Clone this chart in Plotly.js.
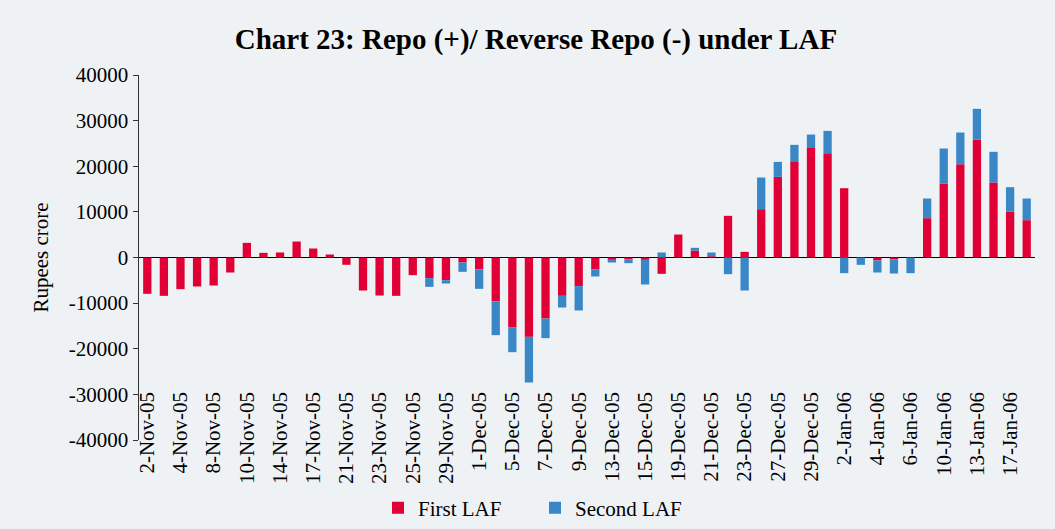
<!DOCTYPE html>
<html>
<head>
<meta charset="utf-8">
<script src="https://cdn.plot.ly/plotly-3.0.1.min.js"></script>
<style>html,body{margin:0;padding:0;background:#eef2f5;}#chart{width:1055px;height:529px;}</style>
</head>
<body>
<div id="chart"></div>
<script>
const dates = ["2-Nov-05","3-Nov-05","4-Nov-05","7-Nov-05","8-Nov-05","9-Nov-05","10-Nov-05","11-Nov-05","14-Nov-05","16-Nov-05",
"17-Nov-05","18-Nov-05","21-Nov-05","22-Nov-05","23-Nov-05","24-Nov-05","25-Nov-05","28-Nov-05","29-Nov-05","30-Nov-05",
"1-Dec-05","2-Dec-05","5-Dec-05","6-Dec-05","7-Dec-05","8-Dec-05","9-Dec-05","12-Dec-05","13-Dec-05","14-Dec-05",
"15-Dec-05","16-Dec-05","19-Dec-05","20-Dec-05","21-Dec-05","22-Dec-05","23-Dec-05","26-Dec-05","27-Dec-05","28-Dec-05",
"29-Dec-05","30-Dec-05","2-Jan-06","3-Jan-06","4-Jan-06","5-Jan-06","6-Jan-06","9-Jan-06","10-Jan-06","12-Jan-06",
"13-Jan-06","16-Jan-06","17-Jan-06","18-Jan-06"];

const firstLAF = [-7960,-8400,-6940,-6350,-6140,-3290,3210,1020,1100,3500,
1970,660,-1600,-7230,-8330,-8400,-3870,-4530,-4970,-1100,
-2630,-9640,-15270,-17390,-13370,-8400,-6280,-2630,-510,-440,
-510,-3580,5040,1530,290,9130,1240,10590,17680,21110,
24180,22860,15190,0,-660,-440,0,8620,16220,20450,
25860,16440,10080,8180];

const secondLAF = [0,0,0,0,0,0,0,0,0,0,
0,0,0,0,0,0,0,-1900,-730,-2040,
-4240,-7380,-5480,-10010,-4310,-2560,-5330,-1530,-590,-800,
-5410,1100,0,590,810,-3650,-7230,6940,3280,3580,
2770,4890,-3430,-1610,-2630,-3070,-3430,4310,7670,6940,
6720,6720,5330,4750];

const tickLabels = dates.filter((d, i) => i % 2 === 0);
const yTickVals = [-40000,-30000,-20000,-10000,0,10000,20000,30000,40000];
const yTickText = ["-40000","-30000","-20000","-10000","0","10000","20000","30000","40000"];

const serif = "Liberation Serif, Times New Roman, serif";

const traces = [
  {type: "bar", name: "First LAF", x: dates, y: firstLAF,
   marker: {color: "#e10035"}, hoverinfo: "x+y"},
  {type: "bar", name: "Second LAF", x: dates, y: secondLAF,
   marker: {color: "#3a87c7"}, hoverinfo: "x+y"}
];

const layout = {
  width: 1055, height: 529,
  paper_bgcolor: "#eef2f5", plot_bgcolor: "#eef2f5",
  barmode: "relative", bargap: 0.5,
  margin: {l: 139, r: 20, t: 75, b: 89, autoexpand: false},
  title: {text: "<b>Chart 23: Repo (+)/ Reverse Repo (-) under LAF</b>",
          font: {family: serif, size: 29, color: "#000"},
          x: 0.508, xanchor: "center", y: 0.926, yanchor: "middle"},
  xaxis: {type: "category", tickmode: "array", tickvals: tickLabels, ticktext: tickLabels,
          tickangle: -90, tickfont: {family: serif, size: 21, color: "#000"},
          showgrid: false, showline: false, ticks: "", zeroline: false,
          anchor: "free", position: 0.146,
          range: [-0.5, 53.5]},
  yaxis: {range: [-40000, 40000], tickmode: "array", tickvals: yTickVals, ticktext: yTickText,
          tickfont: {family: serif, size: 21, color: "#000"},
          showgrid: false, showline: true, linecolor: "#333", linewidth: 1.5,
          ticks: "outside", ticklen: 5, tickcolor: "#333",
          zeroline: true, zerolinecolor: "#000", zerolinewidth: 1.5,
          title: {text: "Rupees crore", font: {family: serif, size: 21, color: "#000"}, standoff: 14}},
  legend: {orientation: "h", xref: "container", x: 378/1055, xanchor: "left",
           yref: "container", y: 1 - 508/529, yanchor: "middle",
           entrywidth: 112, entrywidthmode: "pixels",
           font: {family: serif, size: 21, color: "#000"},
           bgcolor: "rgba(0,0,0,0)", traceorder: "normal"},
  showlegend: true
};

Plotly.newPlot("chart", traces, layout, {displayModeBar: false, staticPlot: true});
</script>
</body>
</html>
